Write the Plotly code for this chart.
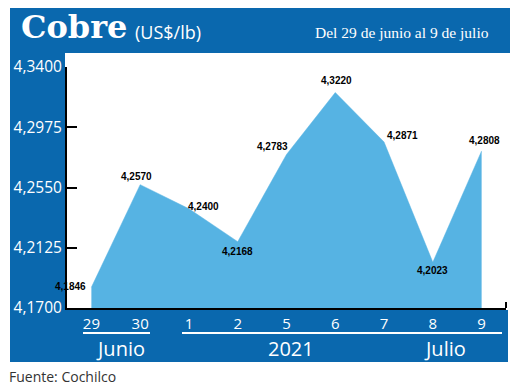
import plotly.graph_objects as go

days = ["29", "30", "1", "2", "5", "6", "7", "8", "9"]
prices = [4.1846, 4.2570, 4.2400, 4.2168, 4.2783, 4.3220, 4.2871, 4.2023, 4.2808]
price_labels = ["4,1846", "4,2570", "4,2400", "4,2168", "4,2783", "4,3220", "4,2871", "4,2023", "4,2808"]
y_ticks = [4.1700, 4.2125, 4.2550, 4.2975, 4.3400]
y_tick_labels = ["4,1700", "4,2125", "4,2550", "4,2975", "4,3400"]
groups = ["Junio", "2021", "Julio"]

# label offsets (pixels) for each value label: (xshift, yshift, xanchor)
label_offsets = [(-3, 1, "right"), (-4, 8, "center"), (15, 2, "center"), (0, -10, "center"),
                 (-14, 8, "center"), (1, 12, "center"), (18, 6, "center"), (0, -8, "center"),
                 (3, 10, "center")]

# page body has an 8px margin: the figure is drawn 8px in from the window's corner
OFF = 8
W, H = 512, 380
ML, MR, MT, MB = 59, 14, 59, 80
PW, PH = W - ML - MR, H - MT - MB

def px(x):  # window pixel -> paper x
    return (x - OFF - ML) / PW

def py(y):  # window pixel -> paper y
    return (H - MB - (y - OFF)) / PH

BLUE = "#0a68ae"
FILL = "#56b3e3"

fig = go.Figure()
fig.add_trace(go.Scatter(
    x=list(range(len(days))), y=prices, mode="lines",
    line=dict(color=FILL, width=0.5), fill="tozeroy", fillcolor=FILL,
    hoverinfo="skip", showlegend=False))

shapes = [
    dict(type="rect", xref="paper", yref="paper", x0=px(10), x1=px(510), y0=py(53), y1=py(8),
         fillcolor=BLUE, line=dict(width=0), layer="below"),
    dict(type="rect", xref="paper", yref="paper", x0=px(10), x1=px(65), y0=py(362), y1=py(53),
         fillcolor=BLUE, line=dict(width=0), layer="below"),
    dict(type="rect", xref="paper", yref="paper", x0=px(10), x1=px(508), y0=py(362), y1=py(310),
         fillcolor=BLUE, line=dict(width=0), layer="below"),
    dict(type="line", xref="paper", yref="paper", x0=px(83), x1=px(150), y0=py(333), y1=py(333),
         line=dict(color="white", width=2)),
    dict(type="line", xref="paper", yref="paper", x0=px(182), x1=px(502), y0=py(333), y1=py(333),
         line=dict(color="white", width=2)),
    dict(type="line", xref="paper", yref="paper", x0=1, x1=1, y0=0, y1=py(302),
         line=dict(color="black", width=2)),
]

LABEL_FONT = dict(family="Liberation Sans Narrow, Liberation Sans, Arial", size=10,
                  color="black", weight="bold")

annotations = []
for i, (v, lab) in enumerate(zip(prices, price_labels)):
    xs, ys, xa = label_offsets[i]
    annotations.append(dict(x=i, y=v, xref="x", yref="y", text=lab, showarrow=False,
                            xshift=xs, yshift=ys, xanchor=xa, yanchor="middle", font=LABEL_FONT))

group_x = [120, 291, 445]
for g, gx in zip(groups, group_x):
    annotations.append(dict(x=px(gx), y=py(348), xref="paper", yref="paper", text=g, showarrow=False,
                            xanchor="center", yanchor="middle",
                            font=dict(family="Open Sans", size=20, color="white")))

annotations += [
    dict(x=px(19), y=py(27), xref="paper", yref="paper", text="<b>Cobre</b>", showarrow=False,
         xanchor="left", yanchor="middle", font=dict(family="DejaVu Serif", size=32, color="white")),
    dict(x=px(133), y=py(32), xref="paper", yref="paper", text="(US$/lb)", showarrow=False,
         xanchor="left", yanchor="middle", font=dict(family="Open Sans", size=18, color="white")),
    dict(x=px(491), y=py(32), xref="paper", yref="paper", text="Del 29 de junio al 9 de julio",
         showarrow=False, xanchor="right", yanchor="middle",
         font=dict(family="Liberation Serif", size=15.5, color="white")),
    dict(x=px(7), y=py(376), xref="paper", yref="paper", text="Fuente: Cochilco", showarrow=False,
         xanchor="left", yanchor="middle", font=dict(family="Open Sans", size=14, color="#333333")),
]

fig.update_layout(
    width=W, height=H, margin=dict(l=ML, r=MR, t=MT, b=MB, pad=0, autoexpand=False),
    paper_bgcolor="white", plot_bgcolor="white",
    shapes=shapes, annotations=annotations, showlegend=False,
    xaxis=dict(range=[-0.5, 8.5], tickvals=list(range(len(days))), ticktext=days,
               showgrid=False, zeroline=False, showline=True, linecolor="black", linewidth=2,
               ticks="", tickfont=dict(family="Open Sans", size=15, color="white"),
               ticklabelstandoff=1, fixedrange=True, automargin=False),
    yaxis=dict(range=[4.17, 4.34], tickvals=y_ticks, ticktext=y_tick_labels,
               showgrid=False, zeroline=False, showline=True, linecolor="black", linewidth=2,
               ticks="inside", ticklen=10, tickwidth=2, tickcolor="black",
               tickfont=dict(family="Open Sans", size=15.5, color="white"),
               ticklabelstandoff=0, fixedrange=True, automargin=False),
)

fig.write_html("out.html")
